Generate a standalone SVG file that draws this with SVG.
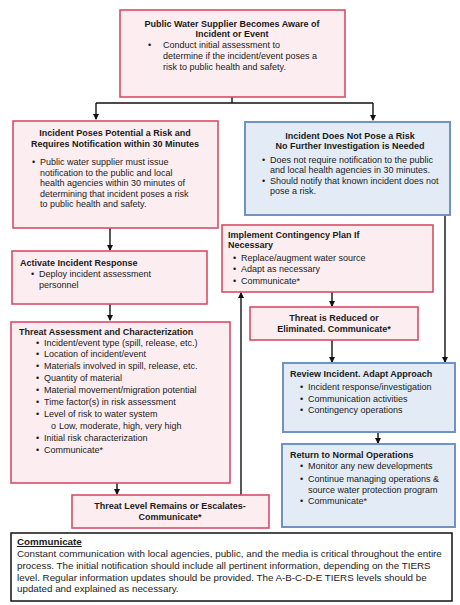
<svg xmlns="http://www.w3.org/2000/svg" width="460" height="605" viewBox="0 0 460 605">
<defs>
<marker id="ah" markerWidth="6" markerHeight="6" refX="5" refY="3" orient="auto" markerUnits="userSpaceOnUse">
<path d="M0,0 L6,3 L0,6 z" fill="#111"/>
</marker>
<style>
text{font-family:"Liberation Sans",Arial,sans-serif;font-size:9px;fill:#1a1a1a}
.t{font-weight:bold}
.c{text-anchor:middle}
.red{fill:#fcedf0;stroke:#d94d68;stroke-width:1.6}
.blue{fill:#e3ecf6;stroke:#6f93c4;stroke-width:2}
.blk{fill:#fff;stroke:#111;stroke-width:1.5}
.ln{fill:none;stroke:#111;stroke-width:1.4}
.p{font-size:9.8px}
</style>
</defs>
<rect width="460" height="605" fill="#fff"/>
<g id="connectors">
<path class="ln" d="M232,97 V103 M96,103 H373"/>
<path class="ln" d="M96,103 V119" marker-end="url(#ah)"/>
<path class="ln" d="M373,103 V120" marker-end="url(#ah)"/>
<path class="ln" d="M110,228 V250" marker-end="url(#ah)"/>
<path class="ln" d="M110,304 V320" marker-end="url(#ah)"/>
<path class="ln" d="M117,483 V494" marker-end="url(#ah)"/>
<path class="ln" d="M241,495 V293" marker-end="url(#ah)"/>
<path class="ln" d="M332,292 V306" marker-end="url(#ah)"/>
<path class="ln" d="M332,340 V362" marker-end="url(#ah)"/>
<path class="ln" d="M445,215 V362" marker-end="url(#ah)"/>
<path class="ln" d="M378,432 V443" marker-end="url(#ah)"/>
</g>
<g id="aware">
<rect class="red" x="120" y="10" width="225" height="87"/>
<text class="t c" x="232" y="27">Public Water Supplier Becomes Aware of</text>
<text class="t c" x="232" y="37">Incident or Event</text>
<text x="148" y="48">•</text>
<text x="163" y="48">Conduct initial assessment to</text>
<text x="163" y="59">determine if the incident/event poses a</text>
<text x="163" y="70">risk to public health and safety.</text>
</g>
<g id="poses-risk">
<rect class="red" x="13" y="121" width="205" height="107"/>
<text class="t c" x="115" y="136">Incident Poses Potential a Risk and</text>
<text class="t c" x="115" y="147">Requires Notification within 30 Minutes</text>
<text x="32" y="165">•</text>
<text x="40" y="165">Public water supplier must issue</text>
<text x="40" y="175.5">notification to the public and local</text>
<text x="40" y="186">health agencies within 30 minutes of</text>
<text x="40" y="196.5">determining that incident poses a risk</text>
<text x="40" y="207">to public health and safety.</text>
</g>
<g id="no-risk">
<rect class="blue" x="245" y="122" width="205" height="93"/>
<text class="t c" x="350" y="139">Incident Does Not Pose a Risk</text>
<text class="t c" x="350" y="149">No Further Investigation is Needed</text>
<text x="262" y="163">•</text>
<text x="270" y="163">Does not require notification to the public</text>
<text x="270" y="173">and local health agencies in 30 minutes.</text>
<text x="262" y="184">•</text>
<text x="270" y="184">Should notify that known incident does not</text>
<text x="270" y="194">pose a risk.</text>
</g>
<g id="activate">
<rect class="red" x="12" y="251" width="195" height="53"/>
<text class="t" x="20" y="266">Activate Incident Response</text>
<text x="31" y="277">•</text>
<text x="39" y="277">Deploy incident assessment</text>
<text x="39" y="288">personnel</text>
</g>
<g id="contingency">
<rect class="red" x="222" y="225" width="211" height="67"/>
<text class="t" x="228" y="237.5">Implement Contingency Plan If</text>
<text class="t" x="228" y="247.5">Necessary</text>
<text x="233" y="261">•</text>
<text x="241" y="261">Replace/augment water source</text>
<text x="233" y="272">•</text>
<text x="241" y="272">Adapt as necessary</text>
<text x="233" y="284">•</text>
<text x="241" y="284">Communicate*</text>
</g>
<g id="reduced">
<rect class="red" x="250" y="307" width="168" height="33"/>
<text class="t c" x="334" y="320.5">Threat is Reduced or</text>
<text class="t c" x="334" y="331.5">Eliminated. Communicate*</text>
</g>
<g id="assessment">
<rect class="red" x="11" y="322" width="219" height="161"/>
<text class="t" x="19" y="335">Threat Assessment and Characterization</text>
<text x="36" y="345.5">•</text><text x="44" y="345.5">Incident/event type (spill, release, etc.)</text>
<text x="36" y="357">•</text><text x="44" y="357">Location of incident/event</text>
<text x="36" y="369">•</text><text x="44" y="369">Materials involved in spill, release, etc.</text>
<text x="36" y="381">•</text><text x="44" y="381">Quantity of material</text>
<text x="36" y="393">•</text><text x="44" y="393">Material movement/migration potential</text>
<text x="36" y="405">•</text><text x="44" y="405">Time factor(s) in risk assessment</text>
<text x="36" y="417">•</text><text x="44" y="417">Level of risk to water system</text>
<text x="51" y="429">o</text><text x="59" y="429">Low, moderate, high, very high</text>
<text x="36" y="441">•</text><text x="44" y="441">Initial risk characterization</text>
<text x="36" y="453">•</text><text x="44" y="453">Communicate*</text>
</g>
<g id="review">
<rect class="blue" x="283" y="363" width="172" height="69"/>
<text class="t" x="290" y="376.5">Review Incident. Adapt Approach</text>
<text x="300" y="390">•</text><text x="308" y="390">Incident response/investigation</text>
<text x="300" y="402">•</text><text x="308" y="402">Communication activities</text>
<text x="300" y="413">•</text><text x="308" y="413">Contingency operations</text>
</g>
<g id="normal">
<rect class="blue" x="282" y="444" width="173" height="83"/>
<text class="t" x="290" y="458">Return to Normal Operations</text>
<text x="300" y="469">•</text><text x="308" y="469">Monitor any new developments</text>
<text x="300" y="482">•</text><text x="308" y="482">Continue managing operations &amp;</text>
<text x="308" y="493">source water protection program</text>
<text x="300" y="504">•</text><text x="308" y="504">Communicate*</text>
</g>
<g id="remains">
<rect class="red" x="72" y="495" width="197" height="33"/>
<text class="t c" x="170" y="508.5">Threat Level Remains or Escalates-</text>
<text class="t c" x="170" y="520">Communicate*</text>
</g>
<g id="communicate">
<rect class="blk" x="11" y="533" width="441" height="68"/>
<text class="t p" x="17" y="545" text-decoration="underline">Communicate</text>
<text class="p" x="17" y="557">Constant communication with local agencies, public, and the media is critical throughout the entire</text>
<text class="p" x="17" y="569">process. The initial notification should include all pertinent information, depending on the TIERS</text>
<text class="p" x="17" y="580.5">level. Regular information updates should be provided. The A-B-C-D-E TIERS levels should be</text>
<text class="p" x="17" y="592">updated and explained as necessary.</text>
</g>
</svg>
